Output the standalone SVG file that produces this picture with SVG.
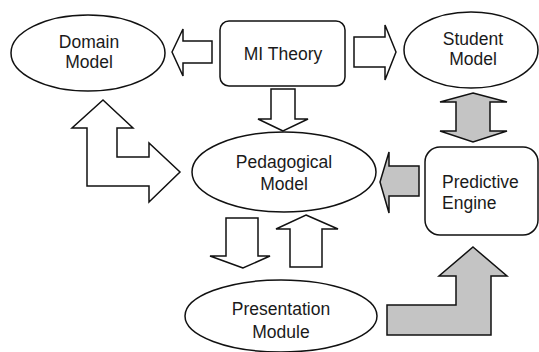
<svg xmlns="http://www.w3.org/2000/svg" width="539" height="352" viewBox="0 0 539 352">
<style>
.n{fill:#fff;stroke:#111;stroke-width:1.5}
.w{fill:#fff;stroke:#111;stroke-width:1.5;stroke-linejoin:miter}
.g{fill:#c4c4c4;stroke:#111;stroke-width:1.5;stroke-linejoin:miter}
text{font-family:"Liberation Sans",Arial,sans-serif;font-size:17.5px;fill:#1a1a1a;text-anchor:middle}
</style>
<rect width="539" height="352" fill="#fff"/>
<g id="connectors">
<polygon class="w" points="172,52 183,29 183,41 212,41 212,63 183,63 183,76"/>
<polygon class="w" points="396,52 385,25 385,37 354,37 354,67 385,67 385,80"/>
<polygon class="w" points="283,131 258,119 271,119 271,89 295,89 295,119 308,119"/>
<polygon class="g" points="473,93 507,102 490,102 490,131 507,131 473,142 440,131 456,131 456,102 440,102"/>
<polygon class="g" points="380,182 389,152 389,166 419,166 419,196 389,196 389,213"/>
<polygon class="w" points="103,100 133,128 117,128 117,157 149,157 149,143 180,172 149,202 149,186 87,186 87,128 72,128"/>
<polygon class="w" points="243,268 210,256 226,256 226,218 258,218 258,256 270,256"/>
<polygon class="w" points="306,215 338,229 322,229 322,267 290,267 290,229 276,229"/>
<polygon class="g" points="473,247 507,276 491,276 491,335 387,335 387,305 456,305 456,276 439,276"/>
</g>
<g id="domain">
<ellipse class="n" cx="88" cy="53" rx="77" ry="38"/>
<text x="89" y="48">Domain</text>
<text x="89" y="68">Model</text>
</g>
<g id="mi-theory">
<rect class="n" x="220" y="21" width="125" height="65" rx="9"/>
<text x="283" y="60">MI Theory</text>
</g>
<g id="student">
<ellipse class="n" cx="471" cy="50" rx="67" ry="38"/>
<text x="473" y="45">Student</text>
<text x="473" y="65">Model</text>
</g>
<g id="pedagogical">
<ellipse class="n" cx="284" cy="172" rx="92" ry="40"/>
<text x="284" y="168">Pedagogical</text>
<text x="284" y="190">Model</text>
</g>
<g id="predictive">
<rect class="n" x="425" y="147" width="113" height="88" rx="15"/>
<text x="442" y="188" style="text-anchor:start">Predictive</text>
<text x="442" y="209" style="text-anchor:start">Engine</text>
</g>
<g id="presentation">
<ellipse class="n" cx="281" cy="316" rx="96" ry="36"/>
<text x="281" y="315">Presentation</text>
<text x="281" y="338">Module</text>
</g>
</svg>
